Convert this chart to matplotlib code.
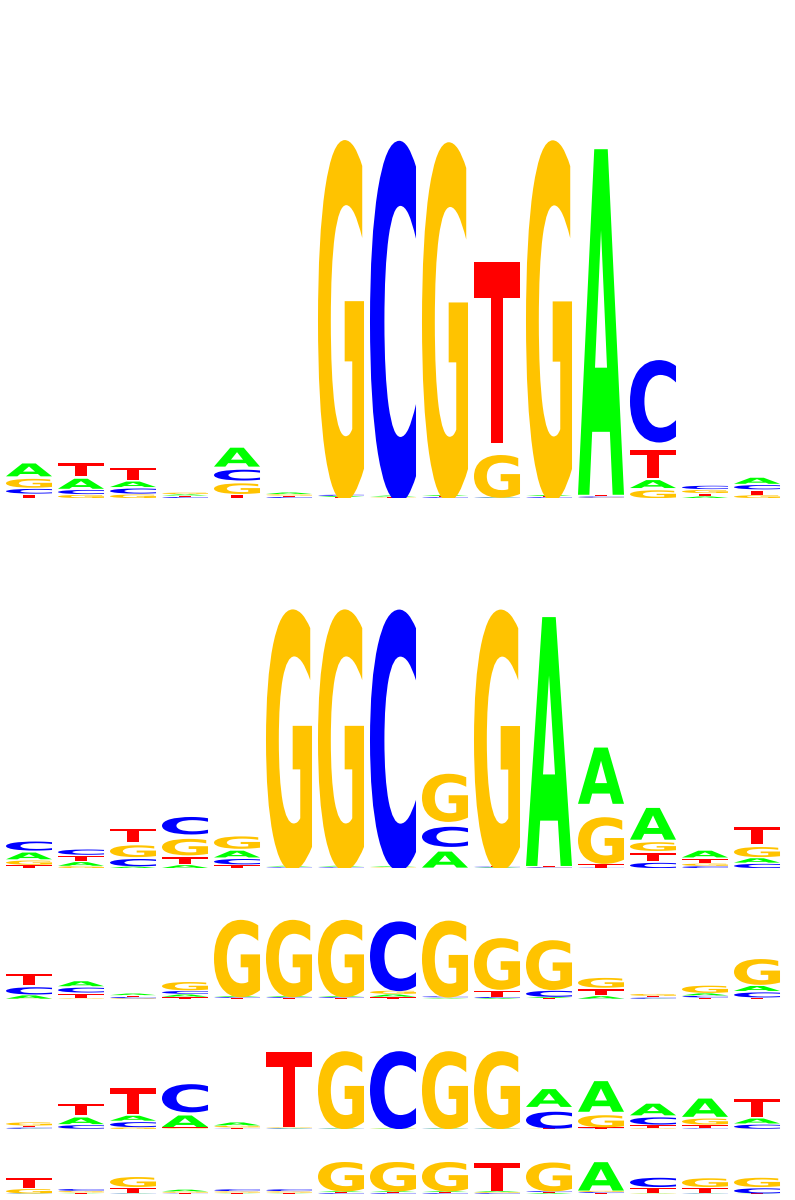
import matplotlib
matplotlib.use('Agg')
import matplotlib.pyplot as plt
from matplotlib.textpath import TextPath
from matplotlib.patches import PathPatch
from matplotlib.font_manager import FontProperties
from matplotlib.transforms import Affine2D

# letter heights in bits, positions 1..15, one set of lists per logo

# logo 1
r1_A = [.068, .053, .029, .006, .10, .008, .005, .005, .005, .002, .005, 1.826, .042, .008, .032]
r1_C = [.024, .021, .026, .005, .055, .005, .005, 1.84, .004, .002, .004, .005, .42, .017, .022]
r1_G = [.045, .016, .018, .007, .054, .006, 1.84, .002, 1.83, .218, 1.84, .002, .04, .016, .014]
r1_T = [.018, .066, .063, .005, .017, .005, .004, .004, .004, .953, .004, .006, .147, .012, .021]

# logo 2
r2_A = [.048, .026, .01, .02, .048, .005, .005, .005, .114, .004, 1.77, .40, .226, .048, .031]
r2_C = [.062, .036, .05, .12, .037, .004, .004, 1.79, .138, .004, .004, .002, .036, .012, .029]
r2_G = [.029, .012, .081, .113, .085, 1.79, 1.79, .003, .33, 1.79, .002, .32, .06, .015, .069]
r2_T = [.018, .034, .095, .05, .02, .004, .004, .004, .002, .004, .005, .025, .057, .03, .124]

# logo 3
r3_A = [.066, .1, .032, .045, .017, .017, .017, .045, .01, .015, .02, .05, .005, .04, .1]
r3_C = [.14, .095, .022, .055, .016, .016, .016, 1.35, .018, .02, .116, .005, .02, .03, .098]
r3_G = [.005, .01, .012, .16, 1.5, 1.5, 1.5, .06, 1.49, 1.0, .965, .19, .035, .14, .5]
r3_T = [.234, .09, .025, .035, .015, .015, .015, .035, .016, .12, .015, .12, .025, .025, .025]

# logo 4
r4_A = [.005, .134, .1, .234, .06, .008, .008, .008, .008, .008, .36, .62, .236, .37, .1]
r4_C = [.02, .07, .098, .55, .005, .008, .005, 1.52, .005, .005, .33, .005, .14, .01, .08]
r4_G = [.06, .005, .03, .01, .03, .01, 1.52, .005, 1.52, 1.52, .005, .235, .01, .117, .005]
r4_T = [.03, .234, .52, .02, .02, 1.52, .008, .008, .008, .008, .005, .025, .06, .06, .37]

# logo 5
r5_A = [.01, .01, .01, .07, .01, .01, .035, .035, .035, .035, .03, 1.15, .01, .01, .01]
r5_C = [.01, .07, .01, .01, .07, .07, .03, .03, .03, .03, .035, .035, .36, .01, .2]
r5_G = [.17, .05, .39, .04, .045, .045, 1.15, 1.15, 1.15, .03, 1.13, .04, .01, .34, .36]
r5_T = [.4, .04, .2, .03, .035, .035, .03, .03, .03, 1.15, .03, .03, .2, .2, .01]

logos = [
    (r1_A, r1_C, r1_G, r1_T),
    (r2_A, r2_C, r2_G, r2_T),
    (r3_A, r3_C, r3_G, r3_T),
    (r4_A, r4_C, r4_G, r4_T),
    (r5_A, r5_C, r5_G, r5_T),
]
bases = ['A', 'C', 'G', 'T']
colors = {'A': '#00FF00', 'C': '#0000FF', 'G': '#FFC300', 'T': '#FF0000'}

# (top, baseline) of each logo in pixels
rows_px = [(0, 498), (498, 868), (868, 999), (999, 1129), (1129, 1194)]

fp = FontProperties(family='DejaVu Sans', weight='bold')
CAP = TextPath((0, 0), 'T', size=1, prop=fp).get_extents().ymax
FILL = 0.76     # cap height as fraction of the letter box
WIDTH = 0.885   # letter width as fraction of a position


def draw_letter(ax, letter, x, y0, h):
    path = TextPath((0, 0), letter, size=1, prop=fp)
    ext = path.get_extents()
    t = (Affine2D().translate(-ext.xmin, 0)
         .scale(WIDTH / ext.width, FILL * h / CAP)
         .translate(x - WIDTH / 2, y0))
    ax.add_patch(PathPatch(t.transform_path(path), facecolor=colors[letter],
                           edgecolor='none', lw=0))


fig = plt.figure(figsize=(7.95, 12), dpi=100)
W, H = 795, 1200

for (top, base), vals in zip(rows_px, logos):
    ax = fig.add_axes([3 / W, 1 - base / H, 780 / W, (base - top) / H])
    ax.set_xlim(-0.5, 14.5)
    ax.set_ylim(0, 2)
    ax.axis('off')
    for i in range(15):
        stack = sorted(zip([v[i] for v in vals], bases))
        y = 0
        for h, b in stack:
            draw_letter(ax, b, i, y, h)
            y += h

fig.savefig('out.png', dpi=100, facecolor='white')
